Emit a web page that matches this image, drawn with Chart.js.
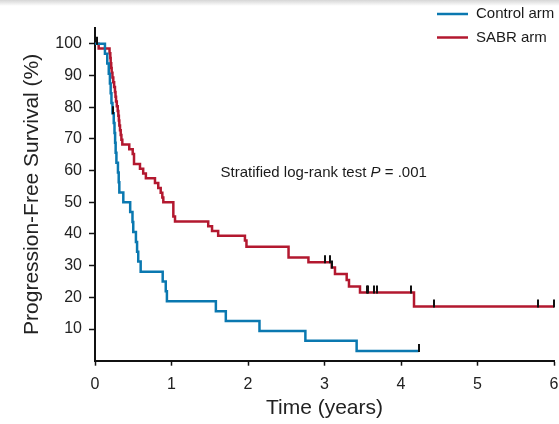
<!DOCTYPE html>
<html>
<head>
<meta charset="utf-8">
<script src="https://cdn.jsdelivr.net/npm/chart.js@4/dist/chart.umd.min.js"></script>
<style>
  html, body { margin: 0; padding: 0; background: #fff; }
  #wrap { position: relative; width: 559px; height: 424px; }
  #topbar { position: absolute; left: 0; top: 0; width: 559px; height: 6px;
            background: linear-gradient(#d6d6d6, rgba(255,255,255,0)); }
</style>
</head>
<body>
<div id="wrap">
  <canvas id="pfs-chart" width="559" height="424"></canvas>
  <div id="topbar"></div>
</div>
<script>
(function () {
  'use strict';

  const FONT = '"Liberation Sans", Arial, Helvetica, sans-serif';

  // Kaplan-Meier steps: time (years) and survival (%) after each event
  const controlTimes = [0, 0.13, 0.16, 0.18, 0.195, 0.205, 0.215, 0.228, 0.245, 0.255, 0.263, 0.27,
    0.28, 0.3, 0.31, 0.318, 0.37, 0.46, 0.49, 0.5, 0.535, 0.55, 0.565, 0.597, 0.885, 0.925, 0.94,
    1.58, 1.71, 2.15, 2.75, 3.42];
  const controlSurv = [100, 96.9, 93.8, 90.6, 87.5, 84.4, 81.3, 78.1, 75, 71.9, 68.8, 65.6,
    62.5, 59.4, 56.3, 53.1, 50, 46.9, 43.8, 40.6, 37.5, 34.4, 31.3, 28.1, 25, 21.9, 18.8,
    15.6, 12.5, 9.4, 6.3, 3.1];
  const controlCensor = [0.24, 4.23];

  const sabrTimes = [0, 0.048, 0.19, 0.2, 0.205, 0.212, 0.218, 0.228, 0.239, 0.25, 0.261, 0.268,
    0.275, 0.285, 0.297, 0.305, 0.312, 0.318, 0.327, 0.336, 0.345, 0.357, 0.448, 0.493, 0.51,
    0.588, 0.63, 0.665, 0.784, 0.827, 0.859, 0.88, 0.893, 1.024, 1.046, 1.48, 1.53, 1.61, 1.96,
    1.98, 2.53, 2.79, 3.094, 3.137, 3.29, 3.32, 3.464, 4.17];
  const sabrSurv = [100, 98.5, 97.0, 95.5, 93.9, 92.4, 90.9, 89.4, 87.9, 86.4, 84.8, 83.3,
    81.8, 80.3, 78.8, 77.3, 75.8, 74.2, 72.7, 71.2, 69.7, 68.2, 66.7, 65.2, 62.1,
    60.6, 59.1, 57.6, 56.1, 54.5, 53.0, 51.5, 50.0, 45.5, 43.9, 42.4, 40.9, 39.4, 37.9,
    36.0, 32.6, 31.1, 29.4, 27.4, 25.5, 23.4, 21.5, 17.1];
  const sabrCensor = [0.02, 3.0, 3.07, 3.1, 3.55, 3.57, 3.65, 3.68, 4.13, 4.43, 5.795, 6.0];

  const xTicks = [0, 1, 2, 3, 4, 5, 6];
  const yTicks = [10, 20, 30, 40, 50, 60, 70, 80, 90, 100];

  const seriesNames = ['Control arm', 'SABR arm'];
  const BLUE = '#0a78b0';
  const RED = '#b3182f';

  // survival level of a step curve at time t
  function levelAt(times, surv, t) {
    let s = surv[0];
    for (let i = 0; i < times.length; i++) {
      if (times[i] <= t) s = surv[i];
    }
    return s;
  }

  function stepPoints(times, surv, censor) {
    const pts = times.map((t, i) => ({ x: t, y: surv[i] }));
    const end = Math.max(...censor);
    pts.push({ x: end, y: levelAt(times, surv, end) });
    return pts;
  }

  // small vertical ticks for censored patients
  const censorMarks = {
    id: 'censorMarks',
    afterDatasetsDraw(chart) {
      const { ctx, scales } = chart;
      const groups = [
        [controlTimes, controlSurv, controlCensor],
        [sabrTimes, sabrSurv, sabrCensor]
      ];
      ctx.save();
      ctx.strokeStyle = '#111';
      ctx.lineWidth = 2;
      groups.forEach(([times, surv, cens]) => {
        cens.forEach(t => {
          const px = Math.round(scales.x.getPixelForValue(t));
          const py = scales.y.getPixelForValue(levelAt(times, surv, t));
          ctx.beginPath();
          ctx.moveTo(px, py + 1);
          ctx.lineTo(px, py - 7);
          ctx.stroke();
        });
      });
      ctx.restore();
    }
  };

  // legend block at the top right and the log-rank note
  const notes = {
    id: 'notes',
    afterDraw(chart) {
      const { ctx, scales } = chart;
      ctx.save();
      ctx.font = '15px ' + FONT;
      ctx.textBaseline = 'middle';
      ctx.fillStyle = '#1a1a1a';
      const colors = [BLUE, RED];
      seriesNames.forEach((name, i) => {
        const y = 14 + i * 23.5;
        ctx.strokeStyle = colors[i];
        ctx.lineWidth = 2.5;
        ctx.beginPath();
        ctx.moveTo(437, y);
        ctx.lineTo(468, y);
        ctx.stroke();
        ctx.fillText(name, 476, y);
      });

      let x = scales.x.getPixelForValue(1.64);
      const y = scales.y.getPixelForValue(58.1);
      ctx.textBaseline = 'alphabetic';
      const parts = [
        ['Stratified log-rank test ', '15px '],
        ['P', 'italic 15px '],
        [' = .001', '15px ']
      ];
      parts.forEach(([txt, f]) => {
        ctx.font = f + FONT;
        ctx.fillText(txt, x, y);
        x += ctx.measureText(txt).width;
      });
      ctx.restore();
    }
  };

  const ctx = document.getElementById('pfs-chart');

  new Chart(ctx, {
    type: 'line',
    data: {
      datasets: [
        {
          label: seriesNames[0],
          data: stepPoints(controlTimes, controlSurv, controlCensor),
          borderColor: BLUE,
          borderWidth: 2.5,
          stepped: 'before',
          pointRadius: 0,
          fill: false
        },
        {
          label: seriesNames[1],
          data: stepPoints(sabrTimes, sabrSurv, sabrCensor),
          borderColor: RED,
          borderWidth: 2.5,
          stepped: 'before',
          pointRadius: 0,
          fill: false
        }
      ]
    },
    options: {
      responsive: false,
      animation: false,
      layout: { padding: { top: 28, right: 5, left: 0, bottom: 0 } },
      plugins: {
        legend: { display: false },
        tooltip: { enabled: false }
      },
      scales: {
        x: {
          type: 'linear',
          min: 0,
          max: 6,
          afterBuildTicks: s => { s.ticks = xTicks.map(v => ({ value: v })); },
          afterFit: s => { s.height = 63.3; s.paddingLeft = 0; s.paddingRight = 0; },
          grid: { drawOnChartArea: false, tickLength: 5, color: '#111', tickWidth: 1.5 },
          border: { color: '#111', width: 2 },
          ticks: { color: '#222', font: { family: FONT, size: 16 }, padding: 9, maxRotation: 0 },
          title: {
            display: true,
            text: 'Time (years)',
            color: '#222',
            font: { family: FONT, size: 21 },
            padding: { top: 0, bottom: 3 }
          }
        },
        y: {
          min: 0,
          max: 105,
          afterBuildTicks: s => { s.ticks = yTicks.map(v => ({ value: v })); },
          afterFit: s => { s.width = 95; s.paddingTop = 0; s.paddingBottom = 0; },
          grid: { drawOnChartArea: false, tickLength: 6, color: '#111', tickWidth: 1.5 },
          border: { color: '#111', width: 2 },
          ticks: { color: '#222', font: { family: FONT, size: 16 }, padding: 7 },
          title: {
            display: true,
            text: 'Progression-Free Survival (%)',
            color: '#222',
            font: { family: FONT, size: 21 },
            padding: { top: 20, bottom: 0 }
          }
        }
      }
    },
    plugins: [censorMarks, notes]
  });
})();
</script>
</body>
</html>
